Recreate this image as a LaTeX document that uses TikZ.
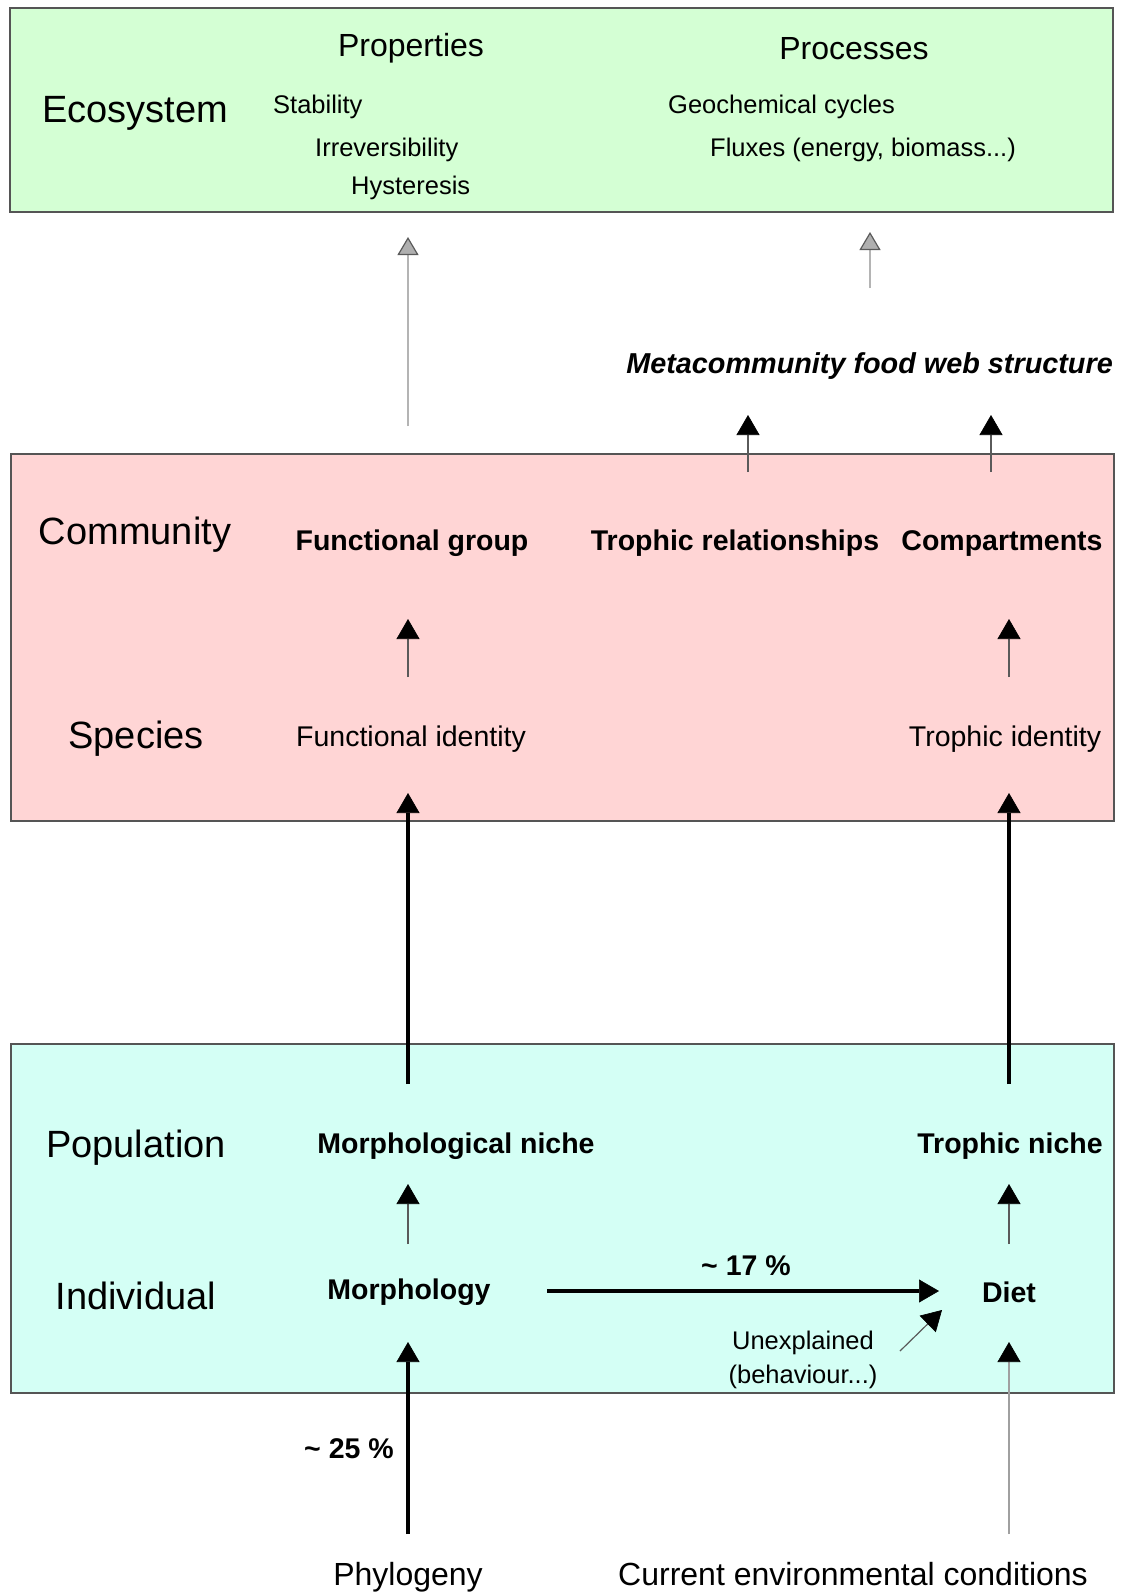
\documentclass[tikz,border=0pt]{standalone}
\usepackage{fontspec}
\setmainfont{Liberation Sans}
\usetikzlibrary{arrows.meta}

\definecolor{ecofill}{RGB}{212,255,212}
\definecolor{comfill}{RGB}{255,213,213}
\definecolor{popfill}{RGB}{212,255,245}
\definecolor{boxline}{RGB}{85,85,85}
\definecolor{greyline}{RGB}{180,180,180}
\definecolor{greyhead}{RGB}{175,175,175}
\definecolor{greyedge}{RGB}{90,90,90}
\definecolor{thinline}{RGB}{90,90,90}
\definecolor{paleline}{RGB}{160,160,160}

\tikzset{
  headblk/.tip={Triangle[width=23pt,length=20pt,color=black,fill=black,line width=0.6pt]},
  headgry/.tip={Triangle[width=21pt,length=18pt,color=greyedge,fill=greyhead,line width=1.2pt]},
  levelbox/.style={draw=boxline, line width=1.8pt},
  levelname/.style={anchor=base, inner sep=0pt, font=\fontsize{38}{40}\selectfont},
  colhead/.style={anchor=base, inner sep=0pt, font=\fontsize{32}{34}\selectfont},
  item/.style={anchor=base west, inner sep=0pt, font=\fontsize{25.5}{28}\selectfont},
  boldlbl/.style={anchor=base, inner sep=0pt, font=\fontsize{28.5}{30}\selectfont\bfseries},
  plainlbl/.style={anchor=base, inner sep=0pt, font=\fontsize{28.5}{30}\selectfont},
  smalllbl/.style={anchor=base, inner sep=0pt, font=\fontsize{25.5}{28}\selectfont},
  footlbl/.style={anchor=base, inner sep=0pt, font=\fontsize{32}{34}\selectfont},
  greyarrow/.style={-headgry, draw=greyline, line width=2.2pt},
  thinarrow/.style={-headblk, draw=thinline, line width=1.2pt},
  longarrow/.style={-headblk, draw=black, line width=3.2pt},
  palearrow/.style={-headblk, draw=paleline, line width=2pt},
  thickarrow/.style={-headblk, draw=black, line width=4.5pt},
}

\begin{document}
\begin{tikzpicture}[x=1pt,y=-1pt]
\useasboundingbox (0,0) rectangle (1121,1596);
\fill[white] (0,0) rectangle (1121,1596);

% level boxes
\draw[levelbox, fill=ecofill] (10,8) rectangle (1113,212);
\draw[levelbox, fill=comfill] (11,454) rectangle (1114,821);
\draw[levelbox, fill=popfill] (11,1044) rectangle (1114,1393);

% ecosystem level
\node[levelname] (eco) at (135,122) {Ecosystem};
\node[colhead] (prop) at (411,56) {Properties};
\node[colhead] (proc) at (854,59) {Processes};
\node[item] (stab) at (273,113.5) {Stability};
\node[item] (irr) at (315,156) {Irreversibility};
\node[item] (hyst) at (351,194) {Hysteresis};
\node[item] (geo) at (668,113) {Geochemical cycles};
\node[item] (flux) at (710,156) {Fluxes (energy, biomass...)};

% metacommunity
\node[anchor=base east, inner sep=0pt, font=\fontsize{28.8}{30}\selectfont\bfseries\itshape]
  (meta) at (1113,373) {Metacommunity food web structure};

% community and species levels
\node[levelname] (com) at (135,544) {Community};
\node[boldlbl] (fgroup) at (412,550) {Functional group};
\node[boldlbl] (troph) at (735,550) {Trophic relationships};
\node[boldlbl] (comp) at (1002,550) {Compartments};
\node[levelname] (spe) at (136,748) {Species};
\node[plainlbl] (fid) at (411,746) {Functional identity};
\node[plainlbl] (tid) at (1005,746) {Trophic identity};

% population and individual levels
\node[levelname] (pop) at (136,1157) {Population};
\node[boldlbl] (mniche) at (456,1153) {Morphological niche};
\node[boldlbl] (tniche) at (1010,1153) {Trophic niche};
\node[levelname] (ind) at (136,1309) {Individual};
\node[boldlbl] (morph) at (409,1299) {Morphology};
\node[boldlbl] (diet) at (1009,1302) {Diet};
\node[boldlbl] (pct17) at (746,1275) {\textasciitilde\ 17 \%};
\node[smalllbl] (unex1) at (803,1349) {Unexplained};
\node[smalllbl] (unex2) at (803,1383) {(behaviour...)};

% drivers
\node[boldlbl] (pct25) at (349,1458) {\textasciitilde\ 25 \%};
\node[footlbl] (phylo) at (408,1585) {Phylogeny};
\node[footlbl] (env) at (853,1585) {Current environmental conditions};

% arrow end points
\coordinate (ga1) at (408,426);  \coordinate (gb1) at (408,237);
\coordinate (ga2) at (870,288);  \coordinate (gb2) at (870,232);
\coordinate (ma1) at (748,472);  \coordinate (mb1) at (748,415);
\coordinate (ma2) at (991,472);  \coordinate (mb2) at (991,415);
\coordinate (sa1) at (408,677);  \coordinate (sb1) at (408,619);
\coordinate (sa2) at (1009,677); \coordinate (sb2) at (1009,619);
\coordinate (la1) at (408,1084); \coordinate (lb1) at (408,793);
\coordinate (la2) at (1009,1084);\coordinate (lb2) at (1009,793);
\coordinate (pa1) at (408,1244); \coordinate (pb1) at (408,1184);
\coordinate (pa2) at (1009,1244);\coordinate (pb2) at (1009,1184);
\coordinate (ha) at (547,1291);  \coordinate (hb) at (939,1291);
\coordinate (da) at (900,1351);  \coordinate (db) at (942,1310);
\coordinate (fa1) at (408,1534); \coordinate (fb1) at (408,1342);
\coordinate (fa2) at (1009,1534);\coordinate (fb2) at (1009,1342);

% connectors
\draw[greyarrow] (ga1) -- (gb1);
\draw[greyarrow] (ga2) -- (gb2);
\draw[thinarrow] (ma1) -- (mb1);
\draw[thinarrow] (ma2) -- (mb2);
\draw[thinarrow] (sa1) -- (sb1);
\draw[thinarrow] (sa2) -- (sb2);
\draw[longarrow] (la1) -- (lb1);
\draw[longarrow] (la2) -- (lb2);
\draw[thinarrow] (pa1) -- (pb1);
\draw[thinarrow] (pa2) -- (pb2);
\draw[thickarrow] (ha) -- (hb);
\draw[thinarrow] (da) -- (db);
\draw[longarrow] (fa1) -- (fb1);
\draw[palearrow] (fa2) -- (fb2);
\end{tikzpicture}
\end{document}
